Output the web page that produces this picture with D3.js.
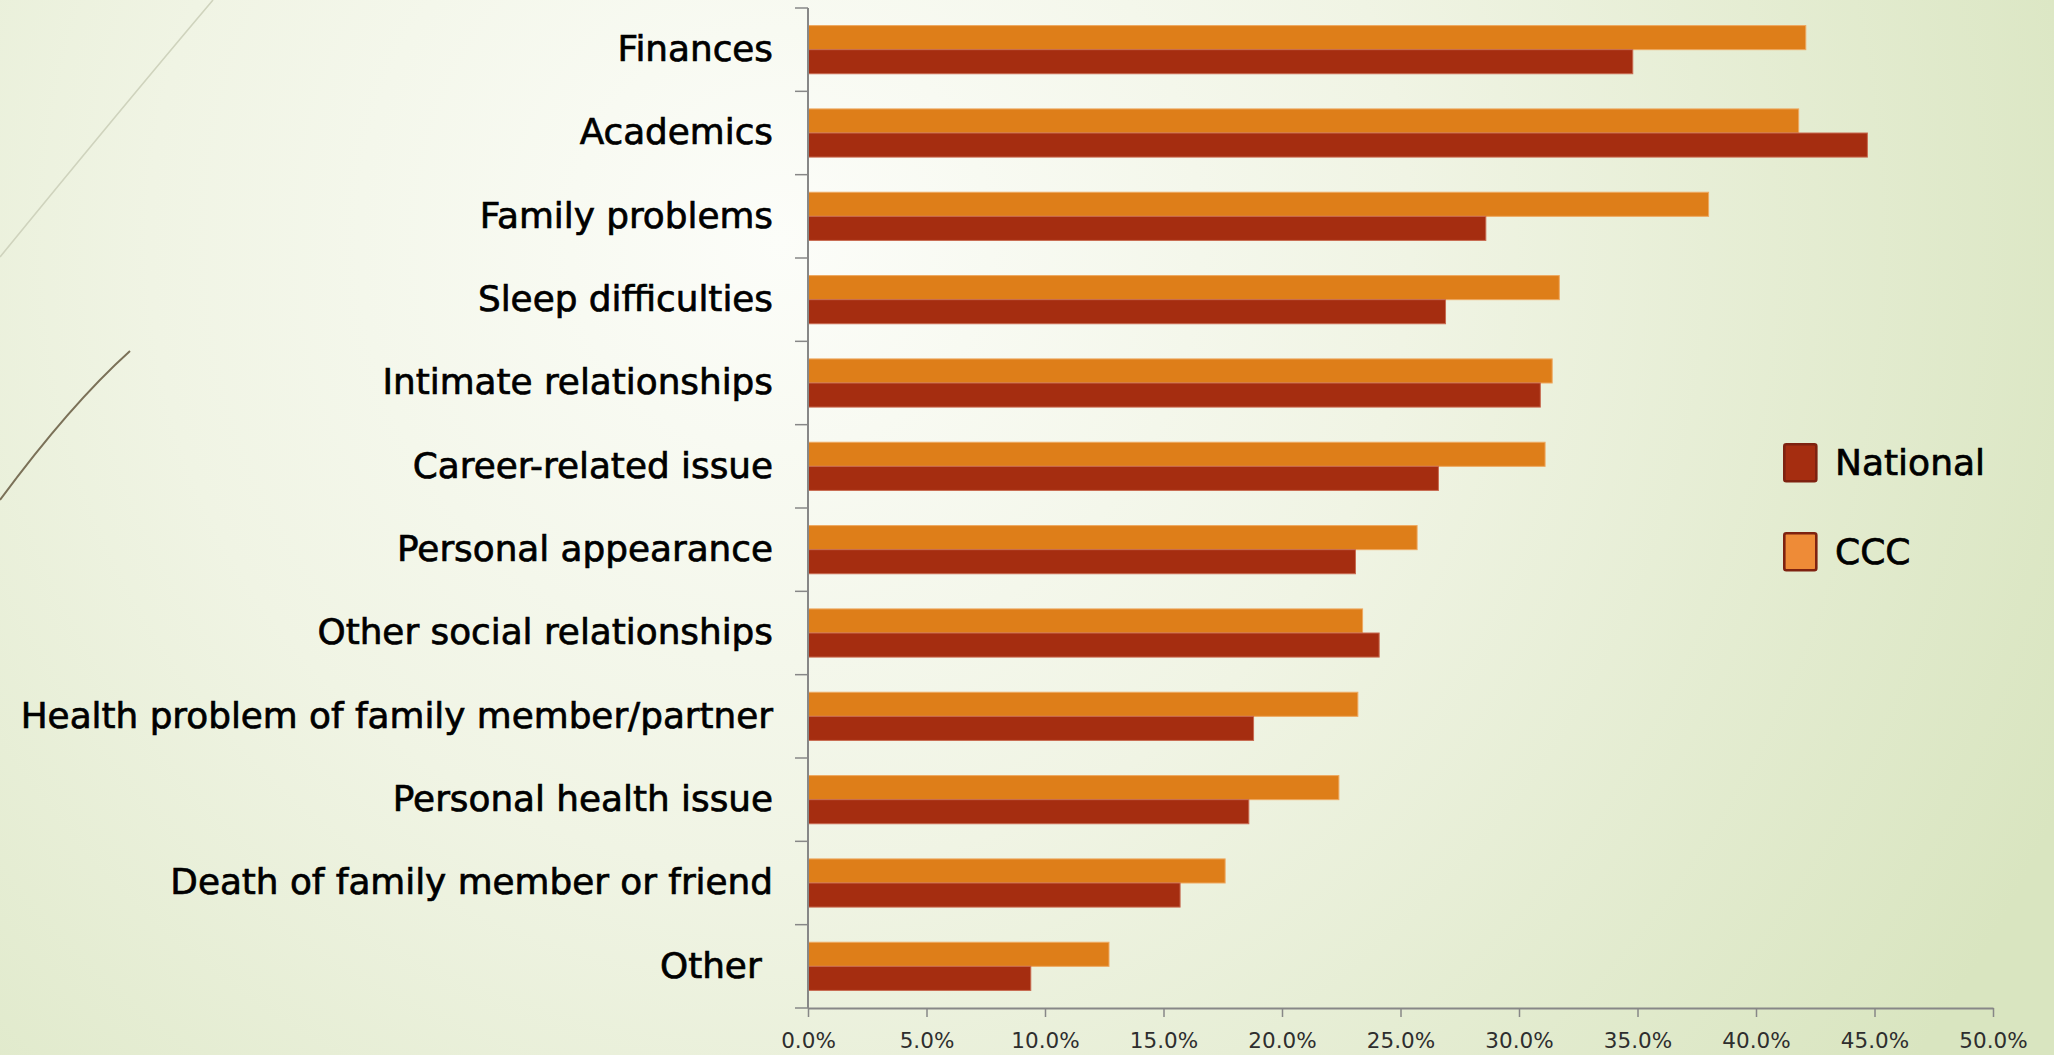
<!DOCTYPE html>
<html>
<head>
<meta charset="utf-8">
<script src="https://cdn.jsdelivr.net/npm/d3@7"></script>
<style>
  body { margin: 0; overflow: hidden; }
  svg { display: block; }
</style>
</head>
<body>
<svg id="chart" width="2054" height="1055"></svg>
<script>
// categories, top to bottom
const categories = [
    "Finances",
    "Academics",
    "Family problems",
    "Sleep difficulties",
    "Intimate relationships",
    "Career-related issue",
    "Personal appearance",
    "Other social relationships",
    "Health problem of family member/partner",
    "Personal health issue",
    "Death of family member or friend",
    "Other "
];

// percent values
const cccValues      = [42.1, 41.8, 38.0, 31.7, 31.4, 31.1, 25.7, 23.4, 23.2, 22.4, 17.6, 12.7];
const nationalValues = [34.8, 44.7, 28.6, 26.9, 30.9, 26.6, 23.1, 24.1, 18.8, 18.6, 15.7, 9.4];

const seriesNames = ["CCC", "National"];      // order inside each group (top to bottom)
const legendNames = ["National", "CCC"];
const xTicks = [0, 5, 10, 15, 20, 25, 30, 35, 40, 45, 50];

const colors = { "National": "#a52d10", "CCC": "#de7e19" };
const edgeColors = { "National": "#c86a50", "CCC": "#eea860" };
const legendFill = { "National": "#a52d10", "CCC": "#ee8b37" };

const data = categories.map((c, i) => ({
    category: c,
    CCC: cccValues[i],
    National: nationalValues[i]
}));

const svg = d3.select("#chart");

// background, theme style
const defs = svg.append("defs");
const grad = defs.append("radialGradient")
    .attr("id", "bg")
    .attr("gradientUnits", "userSpaceOnUse")
    .attr("cx", 780).attr("cy", 240).attr("r", 1400);
grad.append("stop").attr("offset", 0).attr("stop-color", "#fcfdf9");
grad.append("stop").attr("offset", 0.45).attr("stop-color", "#f0f4e4");
grad.append("stop").attr("offset", 1).attr("stop-color", "#d9e5c0");

svg.append("rect")
    .attr("width", 2054).attr("height", 1055)
    .attr("fill", "url(#bg)");

// decorative swooshes top left
svg.append("path")
    .attr("d", "M213,0 Q120,110 0,257")
    .attr("fill", "none")
    .attr("stroke", "#cfd3bd")
    .attr("stroke-width", 1.6);
svg.append("path")
    .attr("d", "M130,351 Q70,405 0,500")
    .attr("fill", "none")
    .attr("stroke", "#7b7158")
    .attr("stroke-width", 2);

// scales
const x = d3.scaleLinear()
    .domain([0, 50])
    .range([808, 1993]);

const y = d3.scaleBand()
    .domain(categories)
    .range([8, 1008])
    .padding(0);

const ySub = d3.scaleBand()
    .domain(seriesNames)
    .range([0, y.bandwidth()])
    .paddingInner(0)
    .paddingOuter(0.73);

// bars
const groups = svg.append("g")
    .selectAll("g")
    .data(data)
    .join("g")
    .attr("transform", d => `translate(0,${y(d.category)})`);

groups.selectAll("rect")
    .data(d => seriesNames.map(s => ({ key: s, value: d[s] })))
    .join("rect")
    .attr("x", x(0))
    .attr("y", d => ySub(d.key))
    .attr("width", d => x(d.value) - x(0))
    .attr("height", ySub.bandwidth())
    .attr("fill", d => colors[d.key])
    .attr("stroke", d => edgeColors[d.key])
    .attr("stroke-width", 1);

// X axis
const xAxis = svg.append("g")
    .attr("transform", `translate(0,${y.range()[1]})`)
    .call(d3.axisBottom(x)
        .tickValues(xTicks)
        .tickFormat(d => d.toFixed(1) + "%")
        .tickSize(9)
        .tickSizeOuter(0)
        .tickPadding(16));
xAxis.select(".domain").attr("stroke", "#878787").attr("stroke-width", 2);
xAxis.selectAll(".tick line").attr("stroke", "#878787").attr("stroke-width", 1.5);
xAxis.selectAll("text")
    .attr("font-family", "DejaVu Sans")
    .attr("font-size", 21.5)
    .attr("fill", "#2e2e2e");

// Y axis: labels centred on bands
const yAxis = svg.append("g")
    .attr("transform", `translate(${x(0)},0)`)
    .call(d3.axisLeft(y).tickSize(0).tickPadding(35));
yAxis.select(".domain").remove();
yAxis.selectAll("text")
    .attr("font-family", "DejaVu Sans")
    .attr("font-size", 35.8)
    .attr("fill", "#000")
    .attr("stroke", "#000")
    .attr("stroke-width", 0.7)
    .style("white-space", "pre");

// y axis line and boundary ticks
svg.append("line")
    .attr("x1", x(0)).attr("x2", x(0))
    .attr("y1", y.range()[0]).attr("y2", y.range()[1])
    .attr("stroke", "#878787").attr("stroke-width", 2);

const bounds = categories.map(c => y(c)).concat([y.range()[1]]);
svg.append("g")
    .selectAll("line")
    .data(bounds)
    .join("line")
    .attr("x1", x(0) - 13).attr("x2", x(0))
    .attr("y1", d => d).attr("y2", d => d)
    .attr("stroke", "#878787").attr("stroke-width", 1.5);

// legend
const legend = svg.append("g")
    .attr("transform", "translate(1783,443)")
    .selectAll("g")
    .data(legendNames)
    .join("g")
    .attr("transform", (d, i) => `translate(0,${i * 89})`);

legend.append("rect")
    .attr("x", 1.3).attr("y", 1.3)
    .attr("width", 32).attr("height", 37)
    .attr("rx", 2)
    .attr("fill", d => legendFill[d])
    .attr("stroke", "#7e2210")
    .attr("stroke-width", 2.6);

legend.append("text")
    .attr("x", 52)
    .attr("y", 32)
    .attr("font-family", "DejaVu Sans")
    .attr("font-size", 36)
    .attr("fill", "#000")
    .attr("stroke", "#000")
    .attr("stroke-width", 0.7)
    .text(d => d);
</script>
</body>
</html>
